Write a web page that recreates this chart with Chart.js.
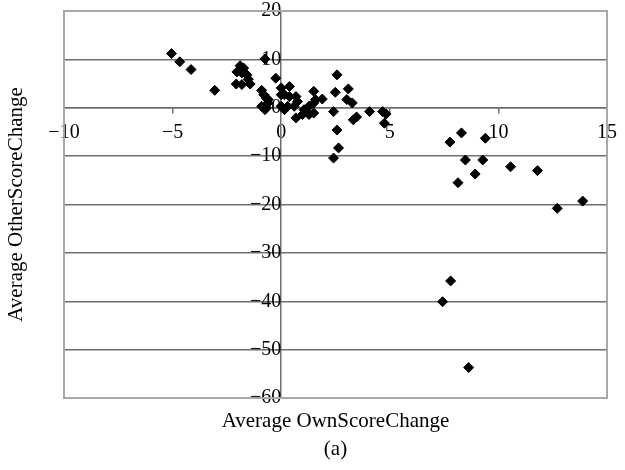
<!DOCTYPE html>
<html>
<head>
<meta charset="utf-8">
<script src="https://cdn.jsdelivr.net/npm/chart.js@4"></script>
<style>
  html, body { margin: 0; background: #fff; }
</style>
</head>
<body>
<canvas id="chart" width="625" height="470"></canvas>
<script>
// Average OwnScoreChange (x) and Average OtherScoreChange (y)
const ownChange = [
    -5.05, -4.67, -4.15, -3.06,
    -1.89, -1.73, -2.04, -1.81, -1.58, -1.51, -2.07, -1.81, -1.43,
    -0.75, -0.25, -0.9, -0.8, -0.6, -0.6, -0.68, -0.75, -0.9, -0.68,
    0, 0.38, 0, 0.15, 0.38, 0.68, 0.75, 0, 0.15, 0.3, 0.6, 0.68, 0.98, 1.05, 1.28,
    1.5, 1.5, 1.58, 1.89, 1.5, 1.28,
    2.57, 2.49, 2.41, 2.57, 2.64, 2.41,
    3.09, 3.02, 3.27, 3.32, 3.47, 4.07, 4.67, 4.83, 4.75,
    7.77, 8.3, 9.4, 8.48, 9.28, 8.14, 8.93, 10.56, 11.8, 12.71, 13.88,
    7.8, 7.43, 8.63
];
const otherChange = [
    11.2, 9.5, 7.9, 3.6,
    8.7, 8.2, 7.4, 7.2, 6.8, 5.9, 4.9, 4.8, 4.9,
    10.1, 6.1, 3.6, 2.7, 1.7, 1.0, 0, -0.4, 0.3, 1.9,
    4.1, 4.4, 2.7, 2.7, 2.3, 2.3, 1.3, 0.3, -0.4, 0.3, 0.3, -2.1, -1.4, -0.4, 0.3,
    3.4, 1.0, 1.7, 1.8, -1.1, -1.4,
    6.8, 3.2, -0.8, -4.6, -8.3, -10.4,
    3.9, 1.7, 1.0, -2.5, -1.9, -0.8, -0.8, -1.3, -3.2,
    -7.1, -5.2, -6.3, -10.8, -10.8, -15.5, -13.7, -12.2, -13.0, -20.8, -19.3,
    -35.8, -40.1, -53.7
];
const xRange = [-10, 15];
const yRange = [-60, 20];
const xTitle = 'Average OwnScoreChange';
const yTitle = 'Average OtherScoreChange';
const caption = '(a)';

const points = ownChange.map((x, i) => ({ x: x, y: otherChange[i] }));
const minus = v => String(v).replace('-', '\u2212');

Chart.defaults.font.family = "'Liberation Serif', 'DejaVu Serif', serif";
Chart.defaults.color = '#000';

// plot frame and the axis titles
const frame = {
    id: 'frame',
    beforeDatasetsDraw(chart) {
        const a = chart.chartArea;
        const ctx = chart.ctx;
        ctx.save();
        ctx.strokeStyle = '#a8a8a8';
        ctx.lineWidth = 2;
        ctx.strokeRect(a.left, a.top, a.right - a.left, a.bottom - a.top);
        ctx.restore();
    },
    afterDraw(chart) {
        const a = chart.chartArea;
        const ctx = chart.ctx;
        ctx.save();
        ctx.fillStyle = '#000';
        ctx.font = "21px 'Liberation Serif'";
        ctx.textAlign = 'center';
        ctx.textBaseline = 'middle';
        const cx = (a.left + a.right) / 2;
        ctx.fillText(xTitle, cx, 421);
        ctx.fillText(caption, cx, 449);
        ctx.translate(16, (a.top + a.bottom) / 2);
        ctx.rotate(-Math.PI / 2);
        ctx.fillText(yTitle, 0, 0);
        ctx.restore();
    }
};

new Chart(document.getElementById('chart'), {
    type: 'scatter',
    data: {
        datasets: [{
            data: points,
            pointStyle: 'rectRot',
            pointRadius: 5,
            backgroundColor: '#000',
            borderColor: '#000',
            borderWidth: 1
        }]
    },
    options: {
        responsive: false,
        animation: false,
        layout: { padding: { left: 64, right: 9, top: 11, bottom: 72 } },
        plugins: {
            legend: { display: false },
            tooltip: { enabled: false }
        },
        scales: {
            x: {
                type: 'linear',
                position: { y: 0 },
                min: xRange[0],
                max: xRange[1],
                ticks: { stepSize: 5, padding: 8, font: { size: 20 }, callback: minus },
                grid: { drawOnChartArea: false, drawTicks: true, tickLength: 5, color: '#6e6e6e', lineWidth: 1.5 },
                border: { color: '#6e6e6e', width: 1.5 }
            },
            y: {
                type: 'linear',
                position: { x: 0 },
                min: yRange[0],
                max: yRange[1],
                ticks: { stepSize: 10, padding: 12, font: { size: 20 }, callback: minus },
                grid: { color: '#6e6e6e', lineWidth: 1.5, tickLength: 5 },
                border: { color: '#6e6e6e', width: 1.5 },
                // the top/bottom labels may stick out of the plot, as in the figure
                afterFit(scale) {
                    scale.paddingTop = 0;
                    scale.paddingBottom = 0;
                }
            }
        }
    },
    plugins: [frame]
});
</script>
</body>
</html>
